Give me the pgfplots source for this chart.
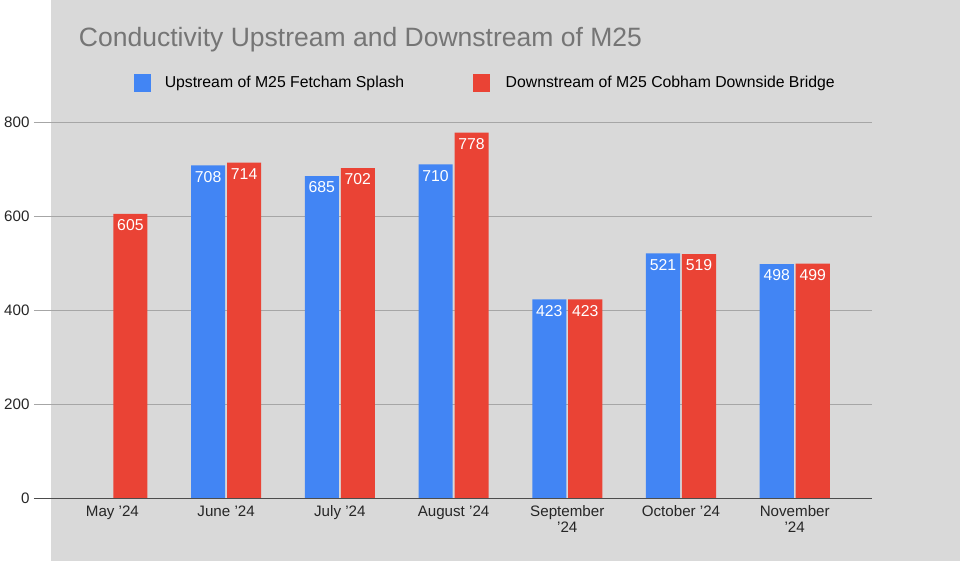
\documentclass[border=0pt]{standalone}
\usepackage{pgfplots}
\pgfplotsset{compat=1.18}
\usepackage{fontspec}
\setmainfont{Liberation Sans}
\definecolor{bg}{HTML}{D9D9D9}
\definecolor{gblue}{HTML}{4285F4}
\definecolor{gred}{HTML}{EA4335}
\definecolor{ttl}{HTML}{757575}
\begin{document}
\begin{tikzpicture}
\fill[bg] (-48.75pt,-49.5pt) rectangle (671.25pt,394.5pt);
\node[anchor=west,text=ttl,font=\fontsize{21}{24}\selectfont] at (-30pt,363pt) {Conductivity Upstream and Downstream of M25};
\fill[gblue] (17.25pt,322pt) rectangle (30.75pt,335.5pt);
\node[anchor=west,font=\fontsize{12.5}{15}\selectfont,inner sep=0pt] at (41.25pt,328.5pt) {Upstream of M25 Fetcham Splash};
\fill[gred] (285.75pt,322pt) rectangle (299.25pt,335.5pt);
\node[anchor=west,font=\fontsize{12.5}{15}\selectfont,inner sep=0pt] at (311.25pt,328.5pt) {Downstream of M25 Cobham Downside Bridge};
\begin{axis}[at={(0,0)},anchor=origin,scale only axis,width=663.75pt,height=297.75pt,
  xmin=-0.69,xmax=6.68,ymin=0,ymax=800,
  axis line style={draw=none},tick style={draw=none},
  ymajorgrids,grid style={draw=gray!70},
  ytick={0,200,400,600,800},
  xtick={0,...,6},
  xticklabels={May '24,June '24,July '24,August '24,September\\'24,October '24,November\\'24},
  xticklabel style={align=center,font=\fontsize{12}{13}\selectfont,text=black!85,yshift=2pt},
  yticklabel style={font=\fontsize{12}{14}\selectfont,text=black!85},
  /pgf/number format/assume math mode=true,
  ybar,bar width=27pt,
  nodes near coords,
  every node near coord/.append style={anchor=north,text=white,font=\fontsize{12.5}{14}\selectfont,yshift=-1pt},
  clip=false]
\addplot[fill=gblue,draw=none,bar shift=-14.25pt] coordinates {(1,708)(2,685)(3,710)(4,423)(5,521)(6,498)};
\addplot[fill=gred,draw=none,bar shift=14.25pt] coordinates {(0,605)(1,714)(2,702)(3,778)(4,423)(5,519)(6,499)};
\draw[black!70] (axis cs:-0.69,0) -- (axis cs:6.68,0);
\end{axis}
\end{tikzpicture}
\end{document}
